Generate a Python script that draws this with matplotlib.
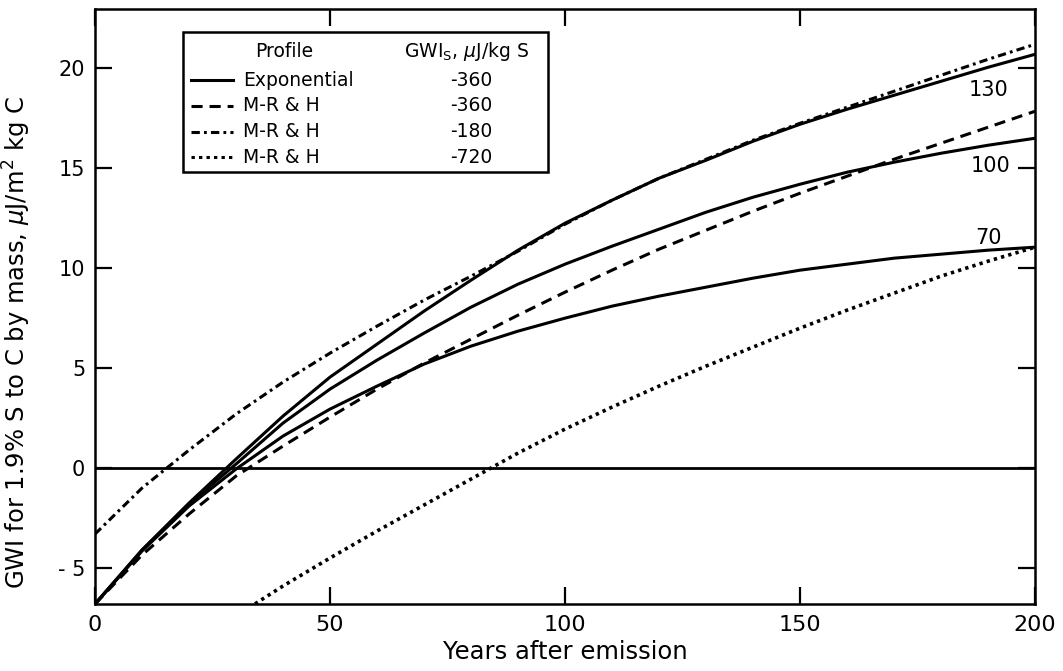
import numpy as np
import matplotlib
matplotlib.use("Agg")
import matplotlib.pyplot as plt

plt.rcParams['font.family'] = ['DejaVu Sans']
plt.rcParams['mathtext.fontset'] = 'dejavusans'
plt.rcParams['lines.scale_dashes'] = False

# years after emission
years = [0, 10, 20, 30, 40, 50, 60, 70, 80, 90, 100,
         110, 120, 130, 140, 150, 160, 170, 180, 190, 200]

# exponential profile, lifetimes 130 / 100 / 70
exp130 = [-6.8, -4.1, -1.75, 0.45, 2.6, 4.55, 6.2, 7.85, 9.4, 10.9, 12.25,
          13.4, 14.5, 15.4, 16.35, 17.2, 17.95, 18.65, 19.35, 20.05, 20.7]
exp100 = [-6.8, -4.1, -1.8, 0.2, 2.25, 3.95, 5.4, 6.75, 8.05, 9.2, 10.2,
          11.1, 11.95, 12.8, 13.55, 14.2, 14.8, 15.3, 15.75, 16.15, 16.5]
exp70 = [-6.8, -4.15, -1.9, -0.05, 1.6, 2.95, 4.1, 5.2, 6.1, 6.85, 7.5,
         8.1, 8.6, 9.05, 9.5, 9.9, 10.2, 10.5, 10.7, 10.9, 11.05]

# M-R & H profile, GWIs -360 / -180 / -720
mrh360 = [-6.8, -4.35, -2.3, -0.4, 1.1, 2.55, 3.95, 5.25, 6.45, 7.65, 8.8,
          9.9, 10.95, 11.9, 12.85, 13.75, 14.6, 15.45, 16.25, 17.05, 17.85]
mrh180 = [-3.3, -1.0, 0.9, 2.7, 4.3, 5.75, 7.1, 8.4, 9.6, 10.85, 12.2,
          13.4, 14.5, 15.45, 16.4, 17.25, 18.05, 18.85, 19.65, 20.45, 21.2]
mrh720 = [np.nan, np.nan, np.nan, -7.4, -5.9, -4.5, -3.15, -1.85, -0.55, 0.75, 1.95,
          3.05, 4.1, 5.1, 6.05, 7.0, 7.9, 8.75, 9.6, 10.35, 11.05]

curve_labels = ["130", "100", "70"]
label_x = [190.2, 190.6, 190.2]
label_y = [18.9, 15.1, 11.5]

legend_names = ["Exponential", "M-R & H", "M-R & H", "M-R & H"]
legend_vals = ["-360", "-360", "-180", "-720"]

lw = 2.2
st_solid = '-'
st_dash = (0, (8, 5))
st_dashdot = (0, (6, 3, 2, 3))
st_dot = (0, (2.4, 3))

fig = plt.figure(figsize=(10.63, 6.71), dpi=100)
ax = fig.add_axes([0.0894, 0.0999, 0.8843, 0.8862])

ax.plot(years, exp130, color='black', lw=lw, ls=st_solid)
ax.plot(years, exp100, color='black', lw=lw, ls=st_solid)
ax.plot(years, exp70, color='black', lw=lw, ls=st_solid)
ax.plot(years, mrh360, color='black', lw=lw, ls=st_dash)
ax.plot(years, mrh180, color='black', lw=lw, ls=st_dashdot)
ax.plot(years, mrh720, color='black', lw=2.6, ls=st_dot)
ax.axhline(0, color='black', lw=2)

for t, x, y in zip(curve_labels, label_x, label_y):
    ax.text(x, y, t, fontsize=15, ha='center', va='center')

ax.set_xlim(0, 200)
ax.set_ylim(-6.8, 22.95)
ax.set_xticks([0, 50, 100, 150, 200])
ax.set_xticklabels(["0", "50", "100", "150", "200"], fontsize=16)
ax.set_yticks([-5, 0, 5, 10, 15, 20])
ax.set_yticklabels(["- 5", "0", "5", "10", "15", "20"], fontsize=15)
ax.tick_params(direction='in', length=12, width=1.6, top=True, right=True)
ax.tick_params(axis='x', pad=8)
ax.tick_params(axis='y', pad=7)
for s in ax.spines.values():
    s.set_linewidth(1.8)

ax.set_xlabel("Years after emission", fontsize=17.5)
ax.xaxis.set_label_coords(0.5, -0.06)
ax.set_ylabel(r"GWI for 1.9% S to C by mass, $\mu$J/m$^2$ kg C", fontsize=17.5)
ax.yaxis.set_label_coords(-0.066, 0.44)

# legend table
tr = ax.transAxes
ax.add_patch(plt.Rectangle((0.0936, 0.7264), 0.4819 - 0.0936, 0.9618 - 0.7264,
                           transform=tr, fill=False, lw=1.8, color='black', zorder=5))
ax.text(0.2011, 0.9287, "Profile", transform=tr, fontsize=13.5, ha='center', va='center')
ax.text(0.3947, 0.9287, r"GWI$_\mathregular{S}$, $\mu$J/kg S", transform=tr,
        fontsize=13.5, ha='center', va='center')
rows_y = [0.8811, 0.8382, 0.7945, 0.7516]
styles = [st_solid, st_dash, st_dashdot, st_dot]
for yy, st, nm, v in zip(rows_y, styles, legend_names, legend_vals):
    ax.plot([0.1021, 0.1468], [yy, yy], transform=tr, color='black', lw=lw, ls=st)
    ax.text(0.1571, yy, nm, transform=tr, fontsize=13.5, ha='left', va='center')
    ax.text(0.40, yy, v, transform=tr, fontsize=13.5, ha='center', va='center')

fig.savefig("out.png", dpi=100)
